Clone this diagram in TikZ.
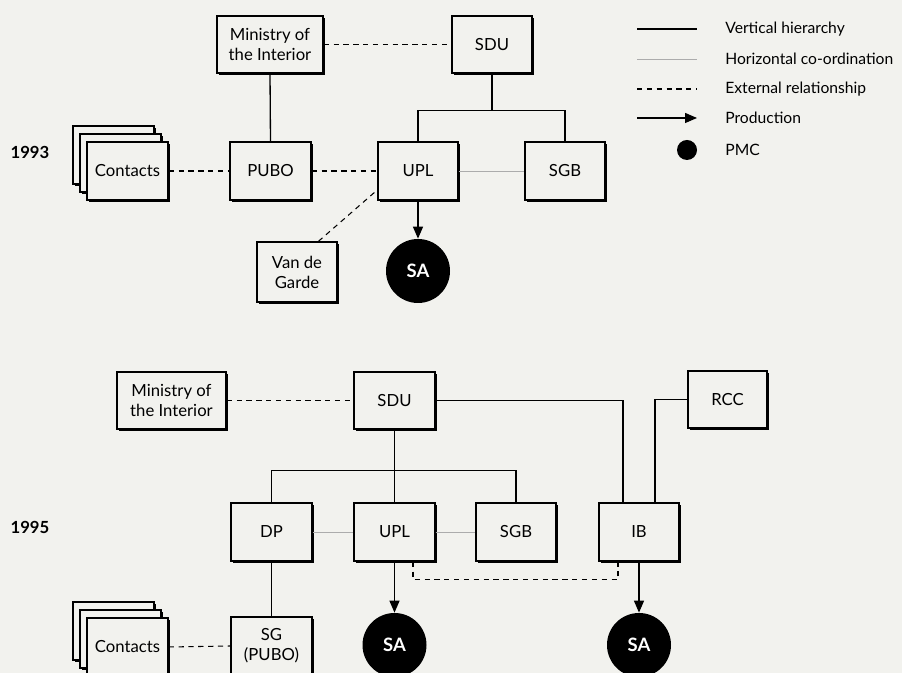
\documentclass[tikz,border=0pt]{standalone}
\usepackage{fontspec}
\setmainfont{Lato}
\usepackage{tikz}
\usetikzlibrary{arrows.meta,positioning,shadows}
\definecolor{paper}{HTML}{F2F2EE}

\begin{document}
\begin{tikzpicture}[
  font=\fontsize{9.5}{11.4}\selectfont,
  box/.style={draw, line width=0.8pt, fill=paper, align=center, inner sep=1pt,
    minimum width=1.62cm, minimum height=1.16cm,
    drop shadow={shadow xshift=1pt, shadow yshift=-1pt, fill=black, opacity=1}},
  pmc/.style={circle, fill=black, text=white, inner sep=0pt, minimum size=1.28cm,
    font=\fontsize{10.5}{12}\selectfont\bfseries},
  vline/.style={line width=0.75pt},
  hline/.style={gray!65, line width=0.5pt},
  ext/.style={line width=0.6pt, dash pattern=on 3pt off 2.6pt},
  prod/.style={-{Triangle[length=2.4mm, width=2mm]}, line width=0.75pt},
  year/.style={font=\fontsize{9.5}{11}\selectfont\bfseries},
  note/.style={anchor=west, inner sep=0pt, font=\fontsize{8.9}{10}\selectfont}
]
\path[fill=paper] (0,0) rectangle (18.04,13.46);
\useasboundingbox (0,0) rectangle (18.04,13.46);

% legend
\node[note] (lgvert) at (14.50,12.88) {Vertical hierarchy};
\node[note] (lghor) at (14.50,12.28) {Horizontal co-ordination};
\node[note] (lgext) at (14.50,11.68) {External relationship};
\node[note] (lgprod) at (14.50,11.10) {Production};
\node[note] (lgpmc) at (14.50,10.46) {PMC};
\draw[vline] ([xshift=-1.76cm]lgvert.west) -- ++(1.2,0);
\draw[hline] ([xshift=-1.76cm]lghor.west) -- ++(1.2,0);
\draw[ext] ([xshift=-1.76cm]lgext.west) -- ++(1.2,0);
\draw[prod] ([xshift=-1.76cm]lgprod.west) -- ++(1.2,0);
\node[circle, fill=black, inner sep=0pt, minimum size=0.4cm] (lgdot) at (13.74,10.46) {};

% 1993
\node[year] (y93) at (0.60,10.42) {1993};
\node[box, minimum width=2.12cm, minimum height=1.14cm] (min1) at (5.40,12.57) {Ministry of\\the Interior};
\node[box, minimum width=1.60cm, minimum height=1.14cm] (sdu1) at (9.84,12.57) {SDU};
\node[box] (pubo1) at (5.41,10.04) {PUBO};
\node[box, minimum width=1.60cm] (upl1) at (8.36,10.04) {UPL};
\node[box, minimum width=1.60cm] (sgb1) at (11.30,10.04) {SGB};
\node[box] (con1c) at (2.27,10.36) {};
\node[box] (con1b) at (2.41,10.20) {};
\node[box] (con1) at (2.55,10.04) {Contacts};
\node[box, minimum width=1.60cm, minimum height=1.20cm] (vdg) at (5.94,8.02) {Van de\\Garde};
\node[pmc] (sa1) at (8.36,8.04) {SA};

\path (sdu1.south) ++(0,-0.74) coordinate (bus1);
\draw[ext] (min1.east) -- (sdu1.west);
\draw[vline] (min1.south) -- (pubo1.north);
\draw[vline] (sdu1.south) -- (bus1);
\draw[vline] (upl1.north) |- (bus1) -| (sgb1.north);
\draw[ext] (con1.east) -- (pubo1.west);
\draw[ext] (pubo1.east) -- (upl1.west);
\draw[hline] (upl1.east) -- (sgb1.west);
\draw[ext] (vdg.55) -- (upl1.205);
\draw[prod] (upl1.south) -- (sa1.north);

% 1995
\node[year] (y95) at (0.60,2.92) {1995};
\node[box, minimum width=2.18cm, minimum height=1.14cm] (min2) at (3.43,5.45) {Ministry of\\the Interior};
\node[box, minimum height=1.14cm] (sdu2) at (7.89,5.45) {SDU};
\node[box, minimum width=1.58cm, minimum height=1.14cm] (rcc) at (14.55,5.47) {RCC};
\node[box] (dp) at (5.43,2.82) {DP};
\node[box] (upl2) at (7.89,2.82) {UPL};
\node[box, minimum width=1.60cm] (sgb2) at (10.32,2.82) {SGB};
\node[box, minimum width=1.60cm] (ib) at (12.78,2.82) {IB};
\node[box] (sg) at (5.43,0.54) {SG\\(PUBO)};
\node[box] (con2c) at (2.27,0.84) {};
\node[box] (con2b) at (2.41,0.68) {};
\node[box] (con2) at (2.55,0.52) {Contacts};
\node[pmc] (sa2) at (7.89,0.56) {SA};
\node[pmc] (sa3) at (12.78,0.56) {SA};

\path (sdu2.south) ++(0,-0.82) coordinate (bus2);
\draw[ext] (min2.east) -- (sdu2.west);
\draw[vline] (sdu2.east) -| ([xshift=-0.32cm]ib.north);
\draw[vline] (rcc.west) -| ([xshift=0.32cm]ib.north);
\draw[vline] (sdu2.south) -- (upl2.north);
\draw[vline] (dp.north) |- (bus2) -| (sgb2.north);
\draw[hline] (dp.east) -- (upl2.west);
\draw[hline] (upl2.east) -- (sgb2.west);
\draw[ext] ([xshift=0.37cm]upl2.south) -- ++(0,-0.36) -| ([xshift=-0.42cm]ib.south);
\draw[prod] (upl2.south) -- (sa2.north);
\draw[prod] (ib.south) -- (sa3.north);
\draw[vline] (dp.south) -- (sg.north);
\draw[ext] (con2.east) -- (sg.west);
\end{tikzpicture}
\end{document}
